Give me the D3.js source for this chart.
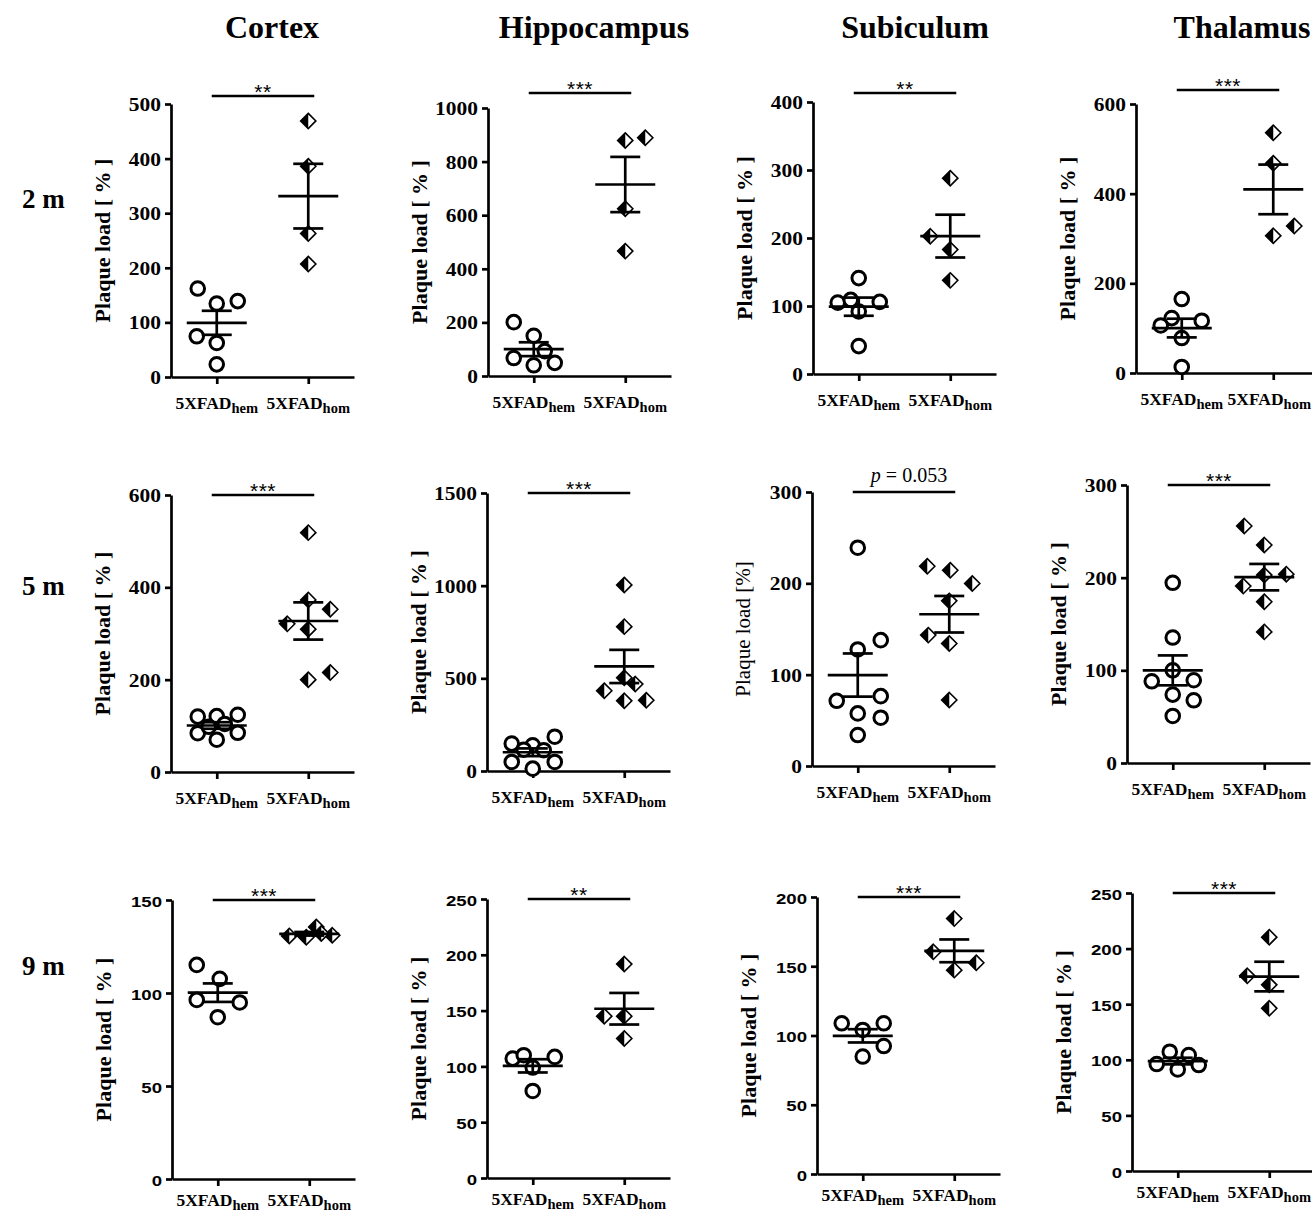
<!DOCTYPE html>
<html><head><meta charset="utf-8">
<script src="https://cdn.jsdelivr.net/npm/d3@7"></script>
<style>body{margin:0;background:#fff} svg{display:block}</style>
</head><body><svg id="c" width="1312" height="1214"></svg>
<script>
// ---------------- DATA ----------------
const regions = ["Cortex", "Hippocampus", "Subiculum", "Thalamus"];
const ages = ["2 m", "5 m", "9 m"];
const groups = ["hem", "hom"];
const yMax = [[500, 1000, 400, 600], [600, 1500, 300, 300], [150, 250, 200, 250]];
const yStep = [[100, 200, 100, 200], [200, 500, 100, 100], [50, 50, 50, 50]];
const significance = [["**", "***", "**", "***"], ["***", "***", "p = 0.053", "***"], ["***", "**", "***", "***"]];

// plaque load values [%] per region (Cortex, Hippocampus, Subiculum, Thalamus)
const hem2m = [[162, 134.5, 139, 74.6, 62.3, 23.2], [201, 150, 93, 67, 40, 49], [141, 105, 109, 106, 92, 41], [165, 122.5, 106, 116.6, 78, 13.4]];
const hom2m = [[469, 386, 263, 207], [879, 889, 624, 466], [288, 202.5, 183, 137.7], [536, 468, 306, 328]];
const hem5m = [[120, 121, 124, 84, 85, 70, 98, 104], [147.8, 138.8, 185, 115, 112, 48.7, 12.6, 48.7], [239, 127.6, 137.8, 71.4, 76.5, 57.6, 52.9, 33.9], [194.5, 135.4, 100, 88.2, 89.3, 73.8, 67.7, 50.8]];
const hom5m = [[518.5, 372.8, 352.6, 320.9, 309.4, 200, 215.6], [1004, 779, 503, 469, 433, 378.6, 382], [218.7, 214.3, 199.8, 180.8, 143.3, 134.1, 72.2], [255.7, 235.2, 202.8, 203.8, 190.9, 174, 141.5]];
const hem9m = [[115.1, 107.6, 96.3, 94.9, 87], [107, 110, 108.5, 99, 78], [108.8, 108.8, 104, 92.4, 84.8], [96.2, 107.3, 104.3, 91.3, 95.3]];
const hom9m = [[130.7, 130, 135.5, 131, 132], [191.7, 145, 145, 125], [184.4, 160.4, 152.5, 147.2], [210.3, 175.5, 167.4, 146.3]];

// ---------------- LAYOUT (positions only) ----------------
const hemData = [hem2m, hem5m, hem9m];
const homData = [hom2m, hom5m, hom9m];
// horizontal scatter offsets (px) of the points, as in the reference
const hemOffsets = [
  [[-19, 0, 21, -20, 0, 0], [-20, 0, 11, -20, 0, 21], [0, -21, -8, 21, 0, 0], [0, -10, -21, 20, 0, 0]],
  [[-19, 0, 21, -19, 21, 0, -8, 8], [-21, 0, 22, -9, 11, -21, 0, 22], [0, 0, 23, -21, 23, 0, 23, 0], [0, 0, 0, -21, 21, 0, 21, 0]],
  [[-21, 2, -21, 22, 0], [-20, -9, 22, 0, 0], [-21, 21, 0, 21, 0], [-21, -8, 11, 0, 21]]
];
const homOffsets = [
  [[0, 0, 0, 0], [0, 20, 0, 0], [0, -20, 0, 0], [0, 0, 0, 21]],
  [[0, 0, 22, -21, 0, 0, 22], [0, 0, 0, 11, -20, 0, 22], [-22, 1, 23, 0, -21, 0, 0], [-20, 0, 0, 22, -21, 0, 0]],
  [[-20, -3, 7, 23, 12], [0, -20, 0, 0], [0, -21, 22, 0], [0, -22, 0, 0]]
];
const axisX = [[171, 488, 813, 1136], [171, 487, 812, 1127], [172, 487, 817, 1132]];
const yTop = [[104, 108, 102, 104], [495, 493, 492, 485], [900, 899, 897, 893]];
const yBot = [[377, 376, 374, 373], [772, 771, 766, 763], [1179, 1178, 1174, 1171]];
const sigRaise = [[8, 15, 9, 14], [0, 0, 0, 0], [0, 0, 0, 0]];
const labelDrop = [32, 32, 27];
const titleX = [272, 594, 915, 1242];
const rowLabelY = [208, 595, 975];

const SERIF = "'Liberation Serif','Times New Roman',serif";
const SANS = "'Liberation Sans',Arial,sans-serif";
const LW = 2.7;
const W = 1312;

const svg = d3.select("#c");

// column titles
svg.selectAll("text.title").data(regions).join("text")
  .attr("class", "title")
  .attr("x", (d, i) => titleX[i]).attr("y", 38)
  .attr("text-anchor", "middle")
  .style("font-family", SERIF).style("font-weight", "bold").style("font-size", "32px")
  .text(d => d);

// row labels
svg.selectAll("text.rowlab").data(ages).join("text")
  .attr("class", "rowlab")
  .attr("x", 22).attr("y", (d, i) => rowLabelY[i])
  .style("font-family", SERIF).style("font-weight", "bold").style("font-size", "27px")
  .text(d => d);

const diamondR = 7.6, circleR = 6.8;

for (let r = 0; r < 3; r++) {
  for (let c = 0; c < 4; c++) {
    const g = svg.append("g");
    const ax = axisX[r][c], top = yTop[r][c], bot = yBot[r][c];
    const y = d3.scaleLinear().domain([0, yMax[r][c]]).range([bot, top]);
    const x = d3.scalePoint().domain(groups).range([ax, ax + 183]).padding(0.5);

    // y axis
    const yAxis = d3.axisLeft(y)
      .tickValues(d3.range(0, yMax[r][c] + 0.001, yStep[r][c]))
      .tickFormat(d3.format("d"))
      .tickSize(6).tickSizeOuter(0).tickPadding(0);
    const ya = g.append("g").attr("transform", `translate(${ax},0)`).call(yAxis);
    ya.select(".domain").attr("stroke", "#000").attr("stroke-width", LW);
    ya.selectAll(".tick line").attr("stroke", "#000").attr("stroke-width", LW);
    const sans = r === 2;
    ya.selectAll(".tick text")
      .attr("x", null).attr("dy", null)
      .attr("transform", `translate(-10,${sans ? 6 : 6.5}) scale(${sans ? 1.2 : 1.16},1)`)
      .attr("text-anchor", "end")
      .style("font-family", sans ? SANS : SERIF)
      .style("font-weight", "bold")
      .style("font-size", sans ? "15.5px" : "18.5px")
      .attr("fill", "#000");

    // x axis
    const xAxis = d3.axisBottom(x).tickSize(7).tickSizeOuter(0).tickFormat("");
    const xa = g.append("g").attr("transform", `translate(0,${bot})`).call(xAxis);
    xa.select(".domain").attr("stroke", "#000").attr("stroke-width", LW);
    xa.selectAll(".tick line").attr("stroke", "#000").attr("stroke-width", LW);

    // x category labels
    groups.forEach(gr => {
      const t = g.append("text")
        .attr("x", x(gr)).attr("y", bot + labelDrop[r])
        .attr("text-anchor", "middle")
        .style("font-family", SERIF).style("font-weight", "bold").style("font-size", "17.5px");
      t.append("tspan").text("5XFAD");
      t.append("tspan").attr("dy", 4).style("font-size", "14.5px").text(gr);
      const bb = t.node().getBBox();
      if (bb.x + bb.width > W - 1) t.attr("x", x(gr) - (bb.x + bb.width - (W - 1)));
    });

    // y axis label
    const regular = (r === 1 && c === 2);
    g.append("text")
      .attr("transform", `translate(${ax - 69},${(top + bot) / 2}) rotate(-90)`)
      .attr("text-anchor", "middle").attr("dominant-baseline", "central")
      .style("font-family", SERIF)
      .style("font-weight", regular ? "normal" : "bold")
      .style("font-size", regular ? "21px" : "22px")
      .text(regular ? "Plaque load [%]" : "Plaque load [ % ]");

    const hv = hemData[r][c], ov = homData[r][c];
    const hOff = hemOffsets[r][c], oOff = homOffsets[r][c];

    // hem: open circles
    g.selectAll("circle.hem").data(hv).join("circle")
      .attr("class", "hem")
      .attr("cx", (d, i) => x("hem") + hOff[i]).attr("cy", d => y(d))
      .attr("r", circleR).attr("fill", "#fff").attr("stroke", "#000").attr("stroke-width", 3);

    // hom: half-filled diamonds
    const dg = g.selectAll("g.hom").data(ov).join("g")
      .attr("class", "hom")
      .attr("transform", (d, i) => `translate(${x("hom") + oOff[i]},${y(d)})`);
    const s = diamondR;
    dg.append("path").attr("d", `M0,${-s}L${s},0L0,${s}L${-s},0Z`)
      .attr("fill", "#fff").attr("stroke", "#000").attr("stroke-width", 1.6).attr("stroke-linejoin", "miter");
    dg.append("path").attr("d", `M0,${-s}L${-s},0L0,${s}Z`).attr("fill", "#000");

    // mean ± SEM
    [["hem", hv], ["hom", ov]].forEach(([gr, vals]) => {
      const m = d3.mean(vals);
      const sem = d3.deviation(vals) / Math.sqrt(vals.length);
      const cx = x(gr);
      const L = g.append("g").attr("stroke", "#000").attr("stroke-width", LW).attr("fill", "none");
      L.append("line").attr("x1", cx - 30).attr("x2", cx + 30).attr("y1", y(m)).attr("y2", y(m));
      L.append("line").attr("x1", cx).attr("x2", cx).attr("y1", y(m - sem)).attr("y2", y(m + sem));
      L.append("line").attr("x1", cx - 15).attr("x2", cx + 15).attr("y1", y(m + sem)).attr("y2", y(m + sem));
      L.append("line").attr("x1", cx - 15).attr("x2", cx + 15).attr("y1", y(m - sem)).attr("y2", y(m - sem));
    });

    // significance bar
    const sy = top - sigRaise[r][c];
    const x1 = x("hem") - 5, x2 = x("hom") + 6;
    g.append("line").attr("x1", x1).attr("x2", x2).attr("y1", sy).attr("y2", sy)
      .attr("stroke", "#000").attr("stroke-width", LW);
    const sig = significance[r][c];
    if (sig.startsWith("p")) {
      const t = g.append("text").attr("x", (x1 + x2) / 2 + 5).attr("y", sy - 10.5)
        .attr("text-anchor", "middle")
        .style("font-family", SERIF).style("font-size", "20px");
      t.append("tspan").style("font-style", "italic").text("p");
      t.append("tspan").text(sig.slice(1));
    } else {
      g.append("text").attr("x", (x1 + x2) / 2).attr("y", sy + 3)
        .attr("text-anchor", "middle")
        .style("font-family", SANS).style("font-size", "21px").style("letter-spacing", "0.5px")
        .text(sig);
    }
  }
}
</script>
</body></html>
